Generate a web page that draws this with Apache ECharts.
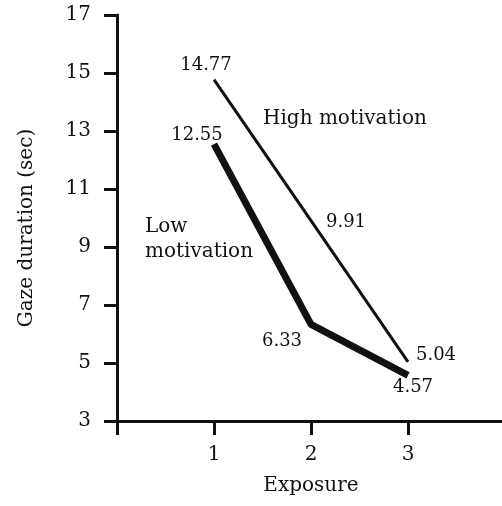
<!DOCTYPE html>
<html>
<head>
<meta charset="utf-8">
<script src="https://cdn.jsdelivr.net/npm/echarts@6/dist/echarts.min.js"></script>
<style>
  html, body { margin: 0; padding: 0; background: #fff; }
  #container { width: 502px; height: 506px; }
</style>
</head>
<body>
<div id="container"></div>
<script>
var exposure = [1, 2, 3];
var highMotivation = [14.77, 9.91, 5.04];
var lowMotivation = [12.55, 6.33, 4.57];
var yTicks = [3, 5, 7, 9, 11, 13, 15, 17];

// label nudges (px) for each point, so they sit like the printed figure
var highOffsets = [[-8, -14], [35, 2], [28, -7]];
var lowOffsets = [[-17, -9], [-29, 17], [5, 12]];

var FONT = 'DejaVu Serif';

function buildData(values, offsets) {
    return exposure.map(function (x, i) {
        return {
            value: [x, values[i]],
            label: { offset: offsets[i] }
        };
    });
}

var dom = document.getElementById('container');
var myChart = echarts.init(dom);

var lineLabel = {
    show: true,
    position: [0, 0],
    align: 'center',
    verticalAlign: 'middle',
    fontFamily: FONT,
    fontSize: 18,
    color: '#111',
    formatter: function (p) { return p.value[1].toFixed(2); }
};

option = {
    backgroundColor: '#fff',
    animation: false,
    grid: {
        left: 117,
        top: 15,
        width: 388,
        height: 406,
        outerBoundsMode: 'none'
    },
    xAxis: {
        type: 'value',
        min: 0,
        max: 4,
        interval: 1,
        name: 'Exposure',
        nameLocation: 'middle',
        nameGap: 55,
        nameTextStyle: { fontFamily: FONT, fontSize: 20, color: '#111' },
        splitLine: { show: false },
        axisLine: { lineStyle: { color: '#111', width: 3 } },
        axisTick: { show: true, length: 14, lineStyle: { color: '#111', width: 3 } },
        axisLabel: {
            margin: 24,
            fontFamily: FONT,
            fontSize: 20,
            color: '#111',
            showMinLabel: true,
            showMaxLabel: true,
            formatter: function (v) {
                return exposure.indexOf(v) >= 0 ? String(v) : '';
            }
        }
    },
    yAxis: {
        type: 'value',
        min: yTicks[0],
        max: yTicks[yTicks.length - 1],
        interval: 2,
        name: 'Gaze duration (sec)',
        nameLocation: 'middle',
        nameGap: 80,
        nameRotate: 90,
        nameTextStyle: { fontFamily: FONT, fontSize: 20, color: '#111', padding: [0, 20, 0, 0] },
        splitLine: { show: false },
        axisLine: { show: true, lineStyle: { color: '#111', width: 3 } },
        axisTick: { show: true, length: 13, lineStyle: { color: '#111', width: 3 } },
        axisLabel: {
            margin: 26,
            fontFamily: FONT,
            fontSize: 20,
            color: '#111'
        }
    },
    graphic: [
        {
            type: 'text',
            left: 263,
            top: 109,
            style: { text: 'High motivation', font: '20px "DejaVu Serif"', fill: '#111' }
        },
        {
            type: 'text',
            left: 145,
            top: 214,
            style: { text: 'Low\nmotivation', font: '20px "DejaVu Serif"', lineHeight: 25, fill: '#111' }
        }
    ],
    series: [
        {
            name: 'High motivation',
            type: 'line',
            data: buildData(highMotivation, highOffsets),
            symbol: 'circle',
            symbolSize: 0,
            lineStyle: { color: '#111', width: 3 },
            itemStyle: { color: '#111' },
            label: lineLabel
        },
        {
            name: 'Low motivation',
            type: 'line',
            data: buildData(lowMotivation, lowOffsets),
            symbol: 'circle',
            symbolSize: 0,
            lineStyle: { color: '#111', width: 7 },
            itemStyle: { color: '#111' },
            label: lineLabel
        }
    ]
};

if (option && typeof option === 'object') {
    myChart.setOption(option, true);
}
</script>
</body>
</html>
